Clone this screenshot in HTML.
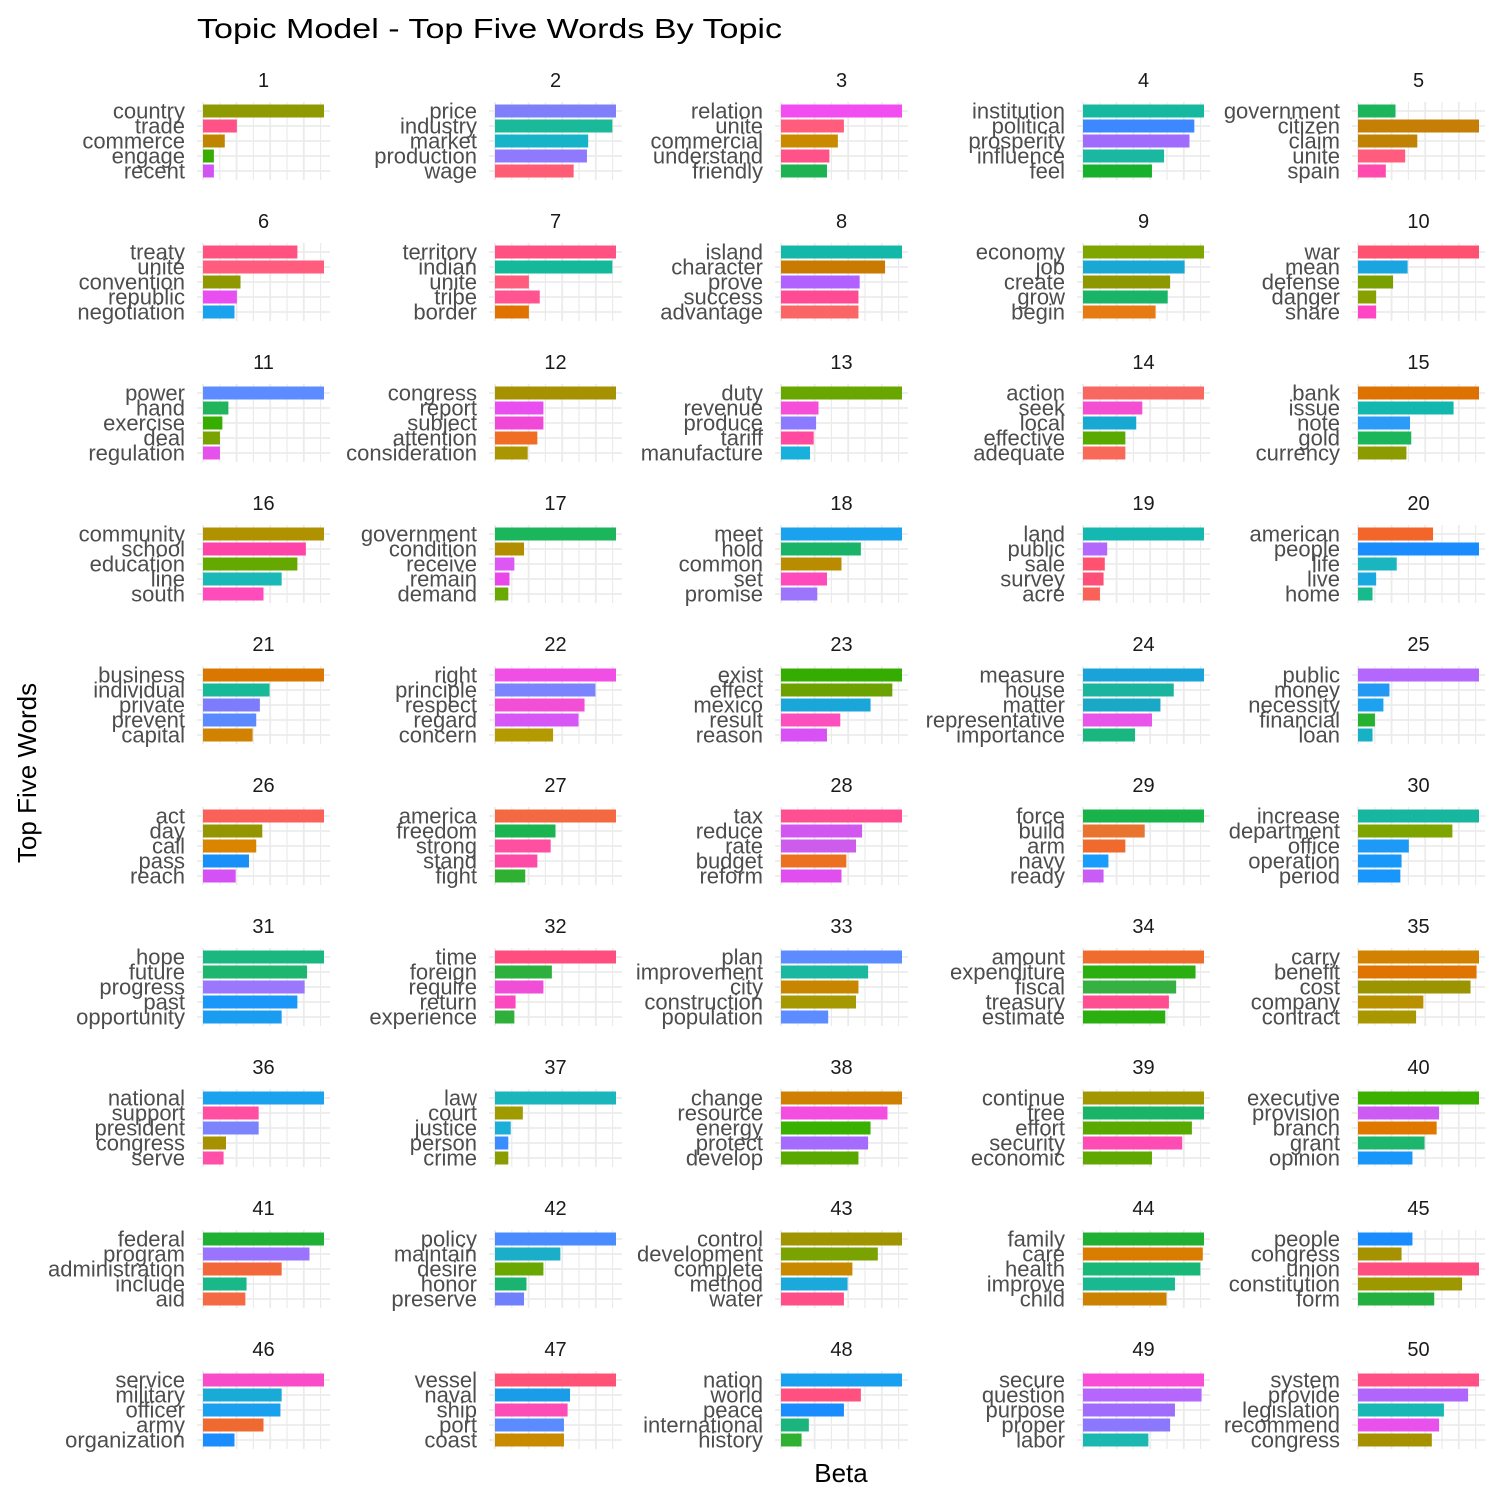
<!DOCTYPE html>
<html><head><meta charset="utf-8"><style>
html,body{margin:0;padding:0;background:#fff;}
svg text{font-family:"Liberation Sans",Arial,sans-serif;}
</style></head><body>
<svg id="chart" width="1500" height="1500" viewBox="0 0 1500 1500" xmlns="http://www.w3.org/2000/svg">
<rect width="1500" height="1500" fill="#fff"/>
<text x="197" y="38" font-size="28" fill="#000" textLength="585" lengthAdjust="spacingAndGlyphs">Topic Model - Top Five Words By Topic</text>
<text x="841" y="1482" font-size="26" text-anchor="middle" fill="#000">Beta</text>
<text x="0" y="0" font-size="26" text-anchor="middle" fill="#000" transform="translate(36,773) rotate(-90)">Top Five Words</text>
<g id="panels"></g>
</svg>
<script>
const words = [
["country","trade","commerce","engage","recent"],
["price","industry","market","production","wage"],
["relation","unite","commercial","understand","friendly"],
["institution","political","prosperity","influence","feel"],
["government","citizen","claim","unite","spain"],
["treaty","unite","convention","republic","negotiation"],
["territory","indian","unite","tribe","border"],
["island","character","prove","success","advantage"],
["economy","job","create","grow","begin"],
["war","mean","defense","danger","share"],
["power","hand","exercise","deal","regulation"],
["congress","report","subject","attention","consideration"],
["duty","revenue","produce","tariff","manufacture"],
["action","seek","local","effective","adequate"],
["bank","issue","note","gold","currency"],
["community","school","education","line","south"],
["government","condition","receive","remain","demand"],
["meet","hold","common","set","promise"],
["land","public","sale","survey","acre"],
["american","people","life","live","home"],
["business","individual","private","prevent","capital"],
["right","principle","respect","regard","concern"],
["exist","effect","mexico","result","reason"],
["measure","house","matter","representative","importance"],
["public","money","necessity","financial","loan"],
["act","day","call","pass","reach"],
["america","freedom","strong","stand","fight"],
["tax","reduce","rate","budget","reform"],
["force","build","arm","navy","ready"],
["increase","department","office","operation","period"],
["hope","future","progress","past","opportunity"],
["time","foreign","require","return","experience"],
["plan","improvement","city","construction","population"],
["amount","expenditure","fiscal","treasury","estimate"],
["carry","benefit","cost","company","contract"],
["national","support","president","congress","serve"],
["law","court","justice","person","crime"],
["change","resource","energy","protect","develop"],
["continue","free","effort","security","economic"],
["executive","provision","branch","grant","opinion"],
["federal","program","administration","include","aid"],
["policy","maintain","desire","honor","preserve"],
["control","development","complete","method","water"],
["family","care","health","improve","child"],
["people","congress","union","constitution","form"],
["service","military","officer","army","organization"],
["vessel","naval","ship","port","coast"],
["nation","world","peace","international","history"],
["secure","question","purpose","proper","labor"],
["system","provide","legislation","recommend","congress"]
];
const betas = [
[1,.28,.18,.09,.09],[1,.97,.77,.76,.65],[1,.52,.47,.40,.38],[1,.92,.88,.67,.57],[.31,1,.49,.39,.23],
[.78,1,.31,.28,.26],[1,.97,.28,.37,.28],[1,.86,.65,.64,.64],[1,.84,.72,.70,.60],[1,.41,.29,.15,.15],
[1,.21,.16,.14,.14],[1,.40,.40,.35,.27],[1,.31,.29,.27,.24],[1,.49,.44,.35,.35],[1,.79,.43,.44,.40],
[1,.85,.78,.65,.50],[1,.24,.16,.12,.11],[1,.66,.50,.38,.30],[1,.20,.18,.17,.14],[.62,1,.32,.15,.12],
[1,.55,.47,.44,.41],[1,.83,.74,.69,.48],[1,.92,.74,.49,.38],[1,.75,.64,.57,.43],[1,.26,.21,.14,.12],
[1,.49,.44,.38,.27],[1,.50,.46,.35,.25],[1,.67,.62,.54,.50],[1,.51,.35,.21,.17],[1,.78,.42,.36,.35],
[1,.86,.84,.78,.65],[1,.47,.40,.17,.16],[1,.72,.64,.62,.39],[1,.93,.77,.71,.68],[1,.98,.93,.54,.48],
[1,.46,.46,.19,.17],[1,.23,.13,.11,.11],[1,.88,.74,.72,.64],[1,1,.90,.82,.57],[1,.67,.65,.55,.45],
[1,.88,.65,.36,.35],[1,.54,.40,.26,.24],[1,.80,.59,.55,.52],[1,.99,.97,.76,.69],[.45,.36,1,.86,.63],
[1,.65,.64,.50,.26],[1,.62,.60,.57,.57],[1,.66,.52,.23,.17],[1,.98,.76,.72,.54],[1,.91,.71,.67,.61]
];
const topicLabels = Array.from({length:50},(_,i)=>String(i+1));
const wordColors = {
country:"#8f9900",trade:"#ff5286",commerce:"#bd8500",engage:"#39ad00",recent:"#d153f5",
price:"#7f7ffa",industry:"#19b99a",market:"#17b3c9",production:"#8f79fc",wage:"#ff5c75",
relation:"#f14df0",unite:"#ff5c7e",commercial:"#c88b00",understand:"#ff5289",friendly:"#1db350",
institution:"#16b89f",political:"#3e88ff",prosperity:"#a06cfc",influence:"#1ab8a0",feel:"#17b12e",
government:"#1bb55c",citizen:"#c57f06",claim:"#c08204",spain:"#ff4bae",
treaty:"#ff5281",convention:"#8f9800",republic:"#e84ef0",negotiation:"#1aa2ec",
territory:"#ff5282",indian:"#14b89a",tribe:"#ff5490",border:"#e07300",
island:"#14b8a8",character:"#c97a00",prove:"#b061ff",success:"#ff4a94",advantage:"#fb6566",
economy:"#7ea500",job:"#19a8d4",create:"#8d9800",grow:"#19b468",begin:"#e77a13",
war:"#ff5170",mean:"#1aa4e0",defense:"#7aa000",danger:"#88a000",share:"#ff45c4",
power:"#5c8cff",hand:"#22b45c",exercise:"#36ad00",deal:"#7aa200",regulation:"#e651eb",
congress:"#a69100",report:"#e84ef0",subject:"#f049d8",attention:"#ef6e24",consideration:"#aa9600",
duty:"#68a600",revenue:"#f54ed9",produce:"#8c7bff",tariff:"#ff4aa0",manufacture:"#1ab0dc",
action:"#f86760",seek:"#f44ed3",local:"#18a9d2",effective:"#5aa900",adequate:"#f8695a",
bank:"#de7200",issue:"#14b7ae",note:"#2b9bf8",gold:"#1cb65a",currency:"#8c9b00",
community:"#b09200",school:"#ff44a9",education:"#65a800",line:"#1ab8b6",south:"#ff4bbc",
condition:"#b38d00",receive:"#dd57f5",remain:"#e947ea",demand:"#6aa900",
meet:"#1ba2ee",hold:"#1ab468",common:"#b98c00",set:"#ff4abc",promise:"#9c75fc",
land:"#14b8b0",public:"#b367fc",sale:"#ff5270",survey:"#fd5079",acre:"#fa6259",
american:"#f2662b",people:"#1a8cfd",life:"#1ab6c0",live:"#1aa8e0",home:"#18b98c",
business:"#d97700",individual:"#18b998",private:"#7d7cfd",prevent:"#5b8aff",capital:"#d18200",
right:"#f14ee6",principle:"#7b84fd",respect:"#f34ed6",regard:"#d657f5",concern:"#b39a00",
exist:"#35ad00",effect:"#6ca200",mexico:"#1aa6d8",result:"#fc4fbe",reason:"#d851f4",
measure:"#19a3d8",house:"#1bb49c",matter:"#19a8c6",representative:"#e954e9",importance:"#1ab680",
money:"#2499f4",necessity:"#1ca2ee",financial:"#26b131",loan:"#17b1c5",
act:"#fa6158",day:"#939600",call:"#d98500",pass:"#1890f8",reach:"#d351f5",
america:"#f36942",freedom:"#1ab450",strong:"#ff4fa0",stand:"#ff4ba8",fight:"#30b030",
tax:"#ff4f93",reduce:"#d058f0",rate:"#cd5cec",budget:"#ec7022",reform:"#e04fed",
force:"#1ab34a",build:"#e87430",arm:"#ef6a2c",navy:"#1a9dfa",ready:"#c85cf5",
increase:"#17b69e",department:"#7ea400",office:"#1c9af6",operation:"#1898f8",period:"#1896fa",
hope:"#1ab880",future:"#1eb66e",progress:"#9a77fd",past:"#1a97f8",opportunity:"#1a9cf0",
time:"#ff4d80",foreign:"#2eb03e",require:"#f14ed8",return:"#fb48c0",experience:"#2eb03a",
plan:"#5c8cff",improvement:"#1ab8a0",city:"#c88500",construction:"#a69800",population:"#5c8cff",
amount:"#f06c2e",expenditure:"#2aae10",fiscal:"#36b040",treasury:"#ff4f90",estimate:"#2aae10",
carry:"#d08200",benefit:"#e07400",cost:"#9a9400",company:"#b89000",contract:"#a89700",
national:"#1aa2ee",support:"#ff4fa0",president:"#7b84fd",serve:"#ff4fa8",
law:"#1ab6bc",court:"#9e9a00",justice:"#1aaed8",person:"#3b8cff",crime:"#8a9c00",
change:"#d08000",resource:"#f44ee0",energy:"#3ab000",protect:"#a56bfc",develop:"#58a800",
continue:"#a29700",free:"#1ab468",effort:"#5aa900",security:"#fd4cb4",economic:"#60a800",
executive:"#3cb000",provision:"#cc5bf3",branch:"#e07800",grant:"#1eb66c",opinion:"#1896fa",
federal:"#1fb034",program:"#9a74fd",administration:"#f2683a",include:"#1ab888",aid:"#f46a45",
policy:"#4a8cff",maintain:"#1aaec8",desire:"#6aa700",honor:"#1ab470",preserve:"#7080fc",
control:"#a09500",development:"#7aa200",complete:"#c88800",method:"#1ba8da",water:"#ff4f88",
family:"#1fb034",care:"#d97c00",health:"#1ab878",improve:"#1ab890",child:"#cc8200",
union:"#ff4f80",constitution:"#9e9800",form:"#24b040",
service:"#f94cc8",military:"#1aaad8",officer:"#1aa0ee",army:"#ee6a30",organization:"#1a8cfd",
vessel:"#ff5276",naval:"#1a9ce8",ship:"#fc4cb6",port:"#5a8cff",coast:"#c88a00",
nation:"#1aa0f0",world:"#ff5080",peace:"#1a8cfd",international:"#1ab47c",history:"#30b030",
secure:"#f94fd8",question:"#b566fc",purpose:"#a06cfc",proper:"#8c78fd",labor:"#1ab8b0",
system:"#ff5186",provide:"#b066fc",legislation:"#1ab8b4",recommend:"#e851ec"
};
const NS="http://www.w3.org/2000/svg";
const colStarts=[203,495,781,1083,1358];
const barMaxLen=121, rowStep=141, firstTitleY=80, firstBarY=111, barGap=15, barH=13;
const root=document.getElementById('panels');
function mk(tag,attrs){const e=document.createElementNS(NS,tag);for(const k in attrs)e.setAttribute(k,attrs[k]);return e;}
words.forEach((ws,t)=>{
  const col=t%5,row=Math.floor(t/5);
  const x0=colStarts[col];
  const maxB=Math.max(...betas[t]);
  const xs=v=>x0+v/maxB*barMaxLen;
  const yc=i=>firstBarY+row*rowStep+i*barGap;
  const g=mk('g',{});
  
  
  const left=x0-6,right=x0+127;
  for(let k=0;k<8;k++){
    const gx=x0+k*16.8;
    const l=mk('line',{x1:gx,x2:gx,y1:yc(0)-9,y2:yc(4)+9,stroke:'#ebebeb','stroke-width':k%2?1.2:1.8});
    
    
    g.appendChild(l);
  }
  for(let i=0;i<5;i++){
    const l=mk('line',{x1:left,x2:right,y1:yc(i),y2:yc(i),stroke:'#ebebeb','stroke-width':1.8});
    
    
    g.appendChild(l);
  }
  const title=mk('text',{x:(left+right)/2,y:firstTitleY+row*rowStep+7,'font-size':20,'text-anchor':'middle',fill:'#1a1a1a'});
  title.textContent=topicLabels[t];
  
  
  g.appendChild(title);
  ws.forEach((w,i)=>{
    const r=mk('rect',{x:xs(0),y:yc(i)-barH/2,width:xs(betas[t][i])-xs(0),height:barH,fill:wordColors[w]||'#888'});
    
    
    g.appendChild(r);
    const tx=mk('text',{x:x0-18,y:yc(i)+7.5,'font-size':22,'text-anchor':'end',fill:'#4d4d4d'});
    tx.textContent=w;
    
    
    g.appendChild(tx);
  });
  root.appendChild(g);
});
</script>
</body></html>
